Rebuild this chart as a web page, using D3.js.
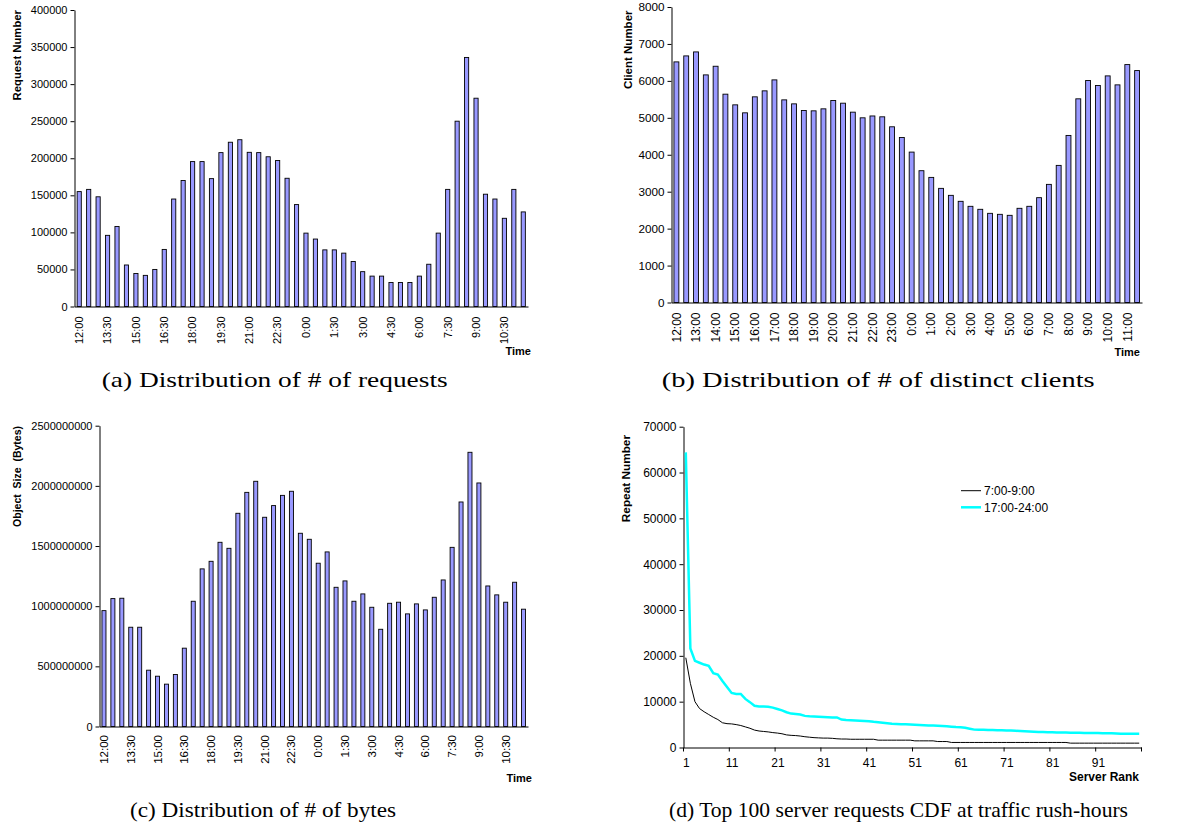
<!DOCTYPE html>
<html><head><meta charset="utf-8">
<script src="https://cdn.jsdelivr.net/npm/d3@7/dist/d3.min.js"></script>
<style>
body{margin:0;background:#fff}
svg{display:block}
text{font-family:"Liberation Sans",Arial,sans-serif;fill:#000}
</style></head><body>
<svg id="chart" width="1204" height="830"></svg>
<script>
// ---------- DATA ----------
const halfHours = ["12:00","12:30","13:00","13:30","14:00","14:30","15:00","15:30","16:00","16:30","17:00","17:30",
  "18:00","18:30","19:00","19:30","20:00","20:30","21:00","21:30","22:00","22:30","23:00","23:30",
  "0:00","0:30","1:00","1:30","2:00","2:30","3:00","3:30","4:00","4:30","5:00","5:30",
  "6:00","6:30","7:00","7:30","8:00","8:30","9:00","9:30","10:00","10:30","11:00","11:30"];
const tickLabels90min = ["12:00","13:30","15:00","16:30","18:00","19:30","21:00","22:30","0:00","1:30","3:00","4:30","6:00","7:30","9:00","10:30"];
const tickLabelsHourly = ["12:00","13:00","14:00","15:00","16:00","17:00","18:00","19:00","20:00","21:00","22:00","23:00",
  "0:00","1:00","2:00","3:00","4:00","5:00","6:00","7:00","8:00","9:00","10:00","11:00"];
const requestCounts = [155000,158000,148000,96000,108000,56000,44500,42000,50000,77000,
  145000,170000,195500,195500,172500,207600,221600,225000,208000,207600,
  202000,197000,173000,137500,99000,91000,76400,76400,72000,60700,
  47000,41000,41000,32400,32400,32400,41000,57000,99000,158000,
  250000,336000,281000,151500,145000,119000,158000,127600];
const clientCounts = [6514,6676,6784,6162,6396,5640,5351,5135,5568,5730,
  6027,5486,5378,5198,5189,5243,5468,5396,5153,5000,
  5050,5027,4757,4468,4072,3568,3387,3090,2901,2739,
  2604,2523,2414,2387,2360,2550,2604,2838,3198,3712,
  4523,5514,6009,5874,6135,5892,6441,6279];
const byteCounts = [963e6,1063e6,1066e6,825e6,825e6,468e6,418e6,352e6,432e6,651e6,
  1041e6,1310e6,1373e6,1531e6,1481e6,1772e6,1946e6,2038e6,1739e6,1836e6,
  1921e6,1955e6,1606e6,1556e6,1357e6,1451e6,1157e6,1210e6,1041e6,1102e6,
  991e6,808e6,1024e6,1033e6,936e6,1019e6,969e6,1074e6,1218e6,1489e6,
  1866e6,2279e6,2024e6,1168e6,1094e6,1033e6,1199e6,975e6];
const serverRanks = [1,2,3,4,5,6,7,8,9,10,11,12,13,14,15,16,17,18,19,20,21,22,23,24,25,26,27,28,29,30,
  31,32,33,34,35,36,37,38,39,40,41,42,43,44,45,46,47,48,49,50,51,52,53,54,55,56,57,58,59,60,
  61,62,63,64,65,66,67,68,69,70,71,72,73,74,75,76,77,78,79,80,81,82,83,84,85,86,87,88,89,90,
  91,92,93,94,95,96,97,98,99,100];
const rankTickLabels = [1,11,21,31,41,51,61,71,81,91];
const morningRepeats = [19600,14000,10000,8500,7800,7200,6600,6100,5400,5200,
  5150,5000,4800,4500,4200,3800,3600,3500,3400,3250,
  3150,3000,2750,2650,2600,2500,2350,2250,2150,2100,
  2050,2050,2000,1900,1850,1850,1800,1800,1800,1800,
  1800,1800,1600,1600,1600,1600,1600,1600,1600,1600,
  1450,1450,1450,1450,1450,1300,1300,1300,1100,1100,
  1100,1100,1100,1100,1100,1100,1100,1100,1100,1100,
  1100,1100,1100,1100,1100,1100,1100,1100,1100,1100,
  1100,1100,1100,1100,950,950,950,950,950,950,
  950,950,950,950,950,950,950,950,950,950];
const eveningRepeats = [64400,21600,18900,18500,18100,17800,16200,15900,14500,13200,
  11900,11700,11700,10600,9900,9100,8950,8950,8900,8700,
  8400,8100,7700,7400,7300,7200,6900,6800,6750,6700,
  6650,6600,6550,6550,6100,6000,5950,5900,5850,5800,
  5750,5600,5500,5400,5300,5200,5150,5100,5050,5000,
  4950,4900,4850,4800,4800,4750,4700,4650,4550,4450,
  4400,4300,4100,3900,3850,3850,3800,3800,3750,3750,
  3700,3700,3650,3600,3550,3500,3450,3400,3400,3350,
  3350,3300,3300,3250,3200,3200,3200,3150,3150,3150,
  3150,3100,3100,3100,3050,3000,3000,3000,3000,3000];
const seriesNames = ["7:00-9:00","17:00-24:00"];
const captions = ["(a) Distribution of # of requests","(b) Distribution of # of distinct clients",
  "(c) Distribution of # of bytes","(d) Top 100 server requests CDF at traffic rush-hours"];

// ---------- DRAW ----------
const svg = d3.select("#chart");

function styleAxis(g, fs){
  g.selectAll("path,line").attr("stroke","#000").attr("stroke-width",1);
  g.selectAll("text").style("font-size",fs+"px").attr("fill","#000");
}

function barChart(o){
  const x = d3.scaleBand().domain(halfHours).range([o.x0,o.x1]).paddingInner(o.pad).paddingOuter(o.pad/2);
  const y = d3.scaleLinear().domain([0,o.max]).range([o.yZero,o.yTop]);
  const g = svg.append("g");
  g.selectAll("rect").data(o.values).join("rect")
    .attr("x",(d,i)=>x(halfHours[i])).attr("width",x.bandwidth())
    .attr("y",d=>y(d)).attr("height",d=>y(0)-y(d))
    .attr("fill","#9999ff").attr("stroke","#000").attr("stroke-width",0.9);
  const ya = g.append("g").attr("transform",`translate(${o.x0},0)`)
    .call(d3.axisLeft(y).tickValues(d3.range(0,o.max+1,o.step)).tickFormat(d3.format("d")).tickSize(4).tickPadding(3).tickSizeOuter(0));
  styleAxis(ya, o.yfs);
  const xa = g.append("g").attr("transform",`translate(0,${o.yZero})`)
    .call(d3.axisBottom(x).tickValues(o.labels).tickSize(0).tickSizeOuter(0));
  styleAxis(xa, o.xfs);
  xa.selectAll("text").attr("transform","rotate(-90)").attr("text-anchor","end")
    .attr("x",-o.labOff).attr("y",0).attr("dy","0.35em");
  g.append("text").attr("transform",`translate(${o.ytx},${o.yty}) rotate(-90)`).attr("text-anchor","end")
    .style("font-size",o.tfs+"px").style("font-weight","bold").style("white-space","pre").text(o.ytitle);
  g.append("text").attr("x",o.xtx).attr("y",o.xty).attr("text-anchor","end")
    .style("font-size","11px").style("font-weight","bold").text("Time");
}

barChart({values:requestCounts,x0:74.5,x1:528,yTop:10,yZero:306.5,max:400000,step:50000,pad:0.56,
  labels:tickLabels90min,labOff:10,ytitle:"Request Number",ytx:20.5,yty:10,xtx:531,xty:355,
  yfs:11,xfs:11,tfs:11.3});
barChart({values:clientCounts,x0:671.5,x1:1142,yTop:7,yZero:302.5,max:8000,step:1000,pad:0.5,
  labels:tickLabelsHourly,labOff:10,ytitle:"Client Number",ytx:631.5,yty:10.5,xtx:1140,xty:356,
  yfs:11.7,xfs:12,tfs:11.5});
barChart({values:byteCounts,x0:99.5,x1:528,yTop:425.7,yZero:726.5,max:2500000000,step:500000000,pad:0.55,
  labels:tickLabels90min,labOff:8.5,ytitle:"Object  Size  (Bytes)",ytx:20.5,yty:426,xtx:532,xty:782,
  yfs:11,xfs:11.5,tfs:10.5});

// line chart (d)
(function(){
  const x = d3.scaleLinear().domain([0.5,100.5]).range([683.5,1141.5]);
  const y = d3.scaleLinear().domain([0,70000]).range([747.5,426.7]);
  const g = svg.append("g");
  const ya = g.append("g").attr("transform","translate(683.5,0)")
    .call(d3.axisLeft(y).tickValues(d3.range(0,70001,10000)).tickFormat(d3.format("d")).tickSize(4).tickPadding(3).tickSizeOuter(0));
  styleAxis(ya, 12);
  const xa = g.append("g").attr("transform","translate(0,747.5)")
    .call(d3.axisBottom(x).tickValues(rankTickLabels).tickSize(0).tickPadding(11).tickSizeOuter(0));
  styleAxis(xa, 12);
  g.append("g").selectAll("line").data(d3.range(0.5,101,10)).join("line")
    .attr("x1",d=>x(d)).attr("x2",d=>x(d)).attr("y1",747.5).attr("y2",751.5)
    .attr("stroke","#000").attr("stroke-width",1);
  const line = d3.line().x((d,i)=>x(serverRanks[i])).y(d=>y(d));
  g.append("path").datum(eveningRepeats).attr("d",line).attr("fill","none").attr("stroke","#00ffff").attr("stroke-width",2.5);
  g.append("path").datum(morningRepeats).attr("d",line).attr("fill","none").attr("stroke","#000").attr("stroke-width",1);
  g.append("text").attr("transform","translate(629.5,435) rotate(-90)").attr("text-anchor","end")
    .style("font-size","11.8px").style("font-weight","bold").text("Repeat Number");
  g.append("text").attr("x",1139).attr("y",781).attr("text-anchor","end")
    .style("font-size","12px").style("font-weight","bold").text("Server Rank");
  const lg = g.append("g");
  const colors = ["#000","#00ffff"], widths=[1,2.5], ys=[490.7,507.3];
  seriesNames.forEach((n,i)=>{
    lg.append("line").attr("x1",961).attr("x2",981).attr("y1",ys[i]).attr("y2",ys[i]).attr("stroke",colors[i]).attr("stroke-width",widths[i]);
    lg.append("text").attr("x",984).attr("y",ys[i]).attr("dy","0.35em").style("font-size","12px").text(n);
  });
})();

// captions
const capPos = [[101.7,387,346],[661.7,387,433],[130,817,266],[669,817,459]];
captions.forEach((c,i)=>{
  svg.append("text").attr("x",capPos[i][0]).attr("y",capPos[i][1])
    .attr("textLength",capPos[i][2]).attr("lengthAdjust","spacingAndGlyphs")
    .style("font-family","'Liberation Serif','Times New Roman',serif").style("font-size","21px").text(c);
});
</script>
</body></html>
